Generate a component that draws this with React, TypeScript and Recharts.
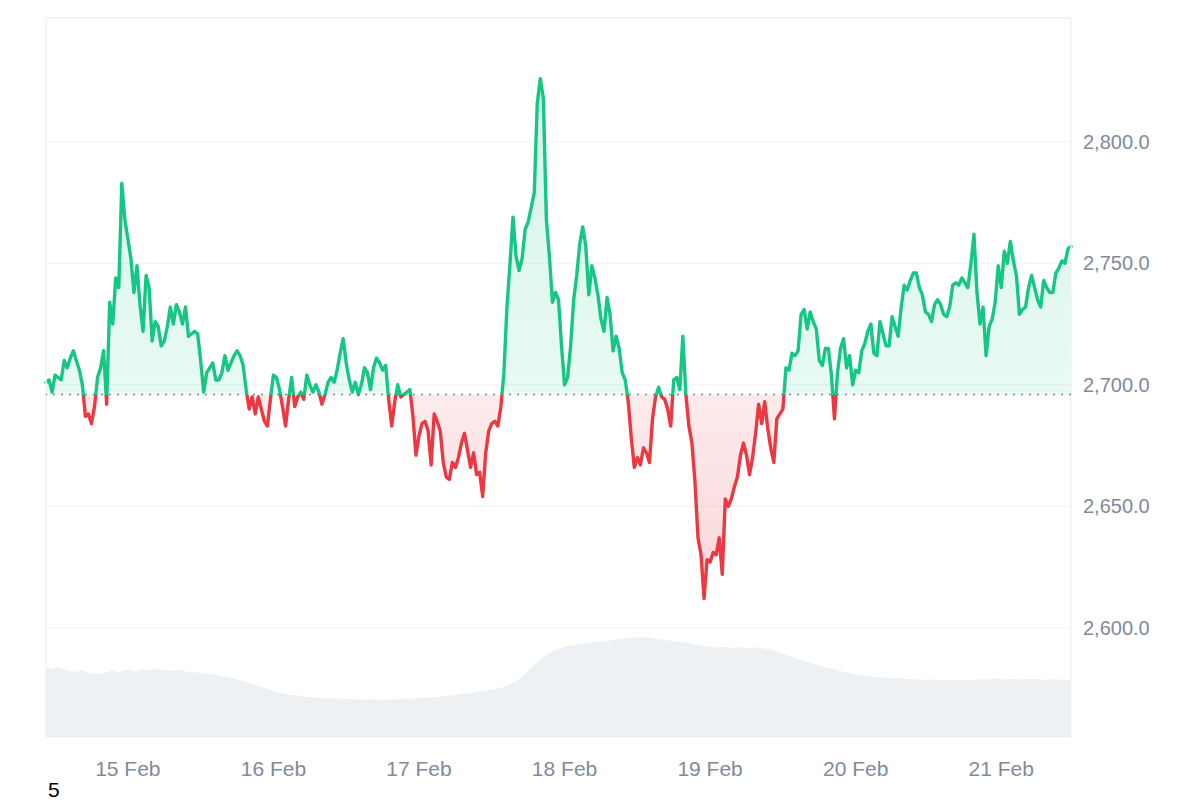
import { ComposedChart, Area, XAxis, YAxis, CartesianGrid, ReferenceLine } from "recharts";

// half-hourly closes, starting 14 Feb 10:30 UTC
const START = Date.UTC(2025, 1, 14, 10, 30);
const HALF_HOUR = 30 * 60 * 1000;
const BASELINE = 2696;

const feb14 = [
  2701, 2702, 2697, 2704, 2703, 2702, 2710, 2707, 2711, 2714, 2710, 2706, 2700, 2687,
  2688, 2684, 2691, 2703, 2707, 2714, 2692, 2734, 2725, 2744, 2740, 2783, 2768,
];
const feb15 = [
  2760, 2752, 2738, 2749, 2733, 2722, 2745, 2740, 2718, 2726, 2724, 2716, 2718, 2724,
  2732, 2725, 2733, 2730, 2725, 2732, 2720, 2721, 2722, 2721, 2710, 2697, 2705, 2707,
  2709, 2702, 2702, 2705, 2712, 2706, 2709, 2712, 2714, 2712, 2708, 2698, 2690, 2695,
  2688, 2695, 2690, 2685, 2683, 2694,
];
const feb16 = [
  2704, 2703, 2698, 2691, 2683, 2694, 2703, 2691, 2695, 2697, 2694, 2704, 2700, 2697,
  2700, 2697, 2692, 2696, 2701, 2703, 2701, 2706, 2713, 2719, 2709, 2702, 2697, 2701,
  2696, 2700, 2707, 2705, 2698, 2707, 2711, 2709, 2706, 2708, 2694, 2683, 2693, 2700,
  2695, 2696, 2697, 2698, 2687, 2671,
];
const feb17 = [
  2679, 2684, 2685, 2681, 2667, 2688, 2685, 2681, 2668, 2662, 2661, 2668, 2666, 2670,
  2676, 2680, 2673, 2666, 2672, 2663, 2664, 2654, 2672, 2681, 2684, 2685, 2683, 2691,
  2705, 2732, 2750, 2769, 2753, 2747, 2752, 2764, 2767, 2773, 2779, 2816, 2826, 2818,
  2768, 2753, 2734, 2738, 2735, 2716,
];
const feb18 = [
  2700, 2703, 2716, 2735, 2745, 2758, 2765, 2757, 2737, 2749, 2744, 2737, 2727, 2722,
  2736, 2729, 2714, 2720, 2715, 2705, 2702, 2693, 2678, 2666, 2670, 2667, 2674, 2672,
  2668, 2686, 2695, 2699, 2695, 2694, 2690, 2683, 2702, 2703, 2698, 2720, 2696, 2683,
  2676, 2660, 2637, 2630, 2612, 2628,
];
const feb19 = [
  2627, 2631, 2630, 2637, 2622, 2653, 2650, 2653, 2658, 2662, 2671, 2676, 2671, 2663,
  2670, 2680, 2692, 2684, 2693, 2682, 2674, 2668, 2686, 2688, 2690, 2707, 2706, 2713,
  2712, 2714, 2729, 2731, 2723, 2730, 2726, 2723, 2710, 2708, 2715, 2715, 2704, 2686,
  2705, 2715, 2719, 2707, 2712, 2700,
];
const feb20 = [
  2706, 2705, 2714, 2717, 2722, 2725, 2713, 2712, 2726, 2721, 2716, 2716, 2728, 2724,
  2720, 2732, 2741, 2739, 2743, 2746, 2746, 2740, 2737, 2730, 2729, 2726, 2733, 2735,
  2733, 2729, 2728, 2732, 2741, 2742, 2741, 2744, 2742, 2740, 2750, 2762, 2738, 2725,
  2732, 2712, 2724, 2727, 2734, 2749,
];
const feb21 = [
  2740, 2755, 2750, 2759, 2751, 2745, 2729, 2731, 2732, 2740, 2745, 2740, 2735, 2732,
  2743, 2740, 2738, 2738, 2746, 2748, 2751, 2750, 2756, 2757,
];

// hourly volume in $B, starting 14 Feb 10:30 UTC
const volume = [
  14.0, 13.6, 14.1, 13.5, 13.2, 13.0, 13.4, 12.9, 12.7, 12.6,
  13.0, 13.3, 12.9, 13.5, 13.4, 13.1, 13.6, 13.3, 13.7, 13.4,
  13.4, 13.2, 13.5, 13.1, 12.9, 13.0, 12.8, 12.6, 12.5, 12.2,
  12.0, 11.7, 11.4, 11.0, 10.6, 10.2, 9.8, 9.5, 9.0, 8.8,
  8.5, 8.4, 8.2, 8.0, 7.9, 7.9, 7.7, 7.8, 7.6, 7.7,
  7.6, 7.5, 7.6, 7.5, 7.6, 7.4, 7.5, 7.6, 7.5, 7.7,
  7.6, 7.8, 7.8, 7.9, 8.0, 8.1, 8.2, 8.4, 8.5, 8.7,
  8.8, 9.0, 9.2, 9.4, 9.6, 9.8, 10.3, 10.9, 11.6, 12.6,
  13.8, 15.0, 16.0, 16.8, 17.4, 17.9, 18.2, 18.4, 18.7, 18.8,
  19.0, 19.1, 19.2, 19.4, 19.5, 19.7, 19.8, 19.9, 20.0, 20.0,
  19.8, 19.6, 19.5, 19.3, 19.2, 19.0, 18.9, 18.6, 18.4, 18.2,
  18.0, 17.9, 18.1, 17.8, 18.0, 17.9, 17.8, 17.9, 17.8, 17.6,
  17.3, 16.9, 16.5, 16.0, 15.6, 15.2, 14.8, 14.5, 14.1, 13.8,
  13.6, 13.2, 12.9, 12.6, 12.4, 12.3, 12.1, 12.0, 11.9, 11.8,
  11.8, 11.7, 11.6, 11.5, 11.6, 11.4, 11.5, 11.4, 11.3, 11.4,
  11.4, 11.3, 11.5, 11.4, 11.6, 11.5, 11.6, 11.7, 11.5, 11.6,
  11.6, 11.5, 11.7, 11.6, 11.5, 11.4, 11.6, 11.5, 11.4, 11.4,
];

const dayTicks = [15, 16, 17, 18, 19, 20, 21].map((d) => Date.UTC(2025, 1, d));
const dayLabels = ["15 Feb", "16 Feb", "17 Feb", "18 Feb", "19 Feb", "20 Feb", "21 Feb"];
const priceTicks = [2600, 2650, 2700, 2750, 2800];

const prices = [...feb14, ...feb15, ...feb16, ...feb17, ...feb18, ...feb19, ...feb20, ...feb21];

const data = prices.map((p, i) => ({
  t: START + i * HALF_HOUR,
  price: p,
  volume: i % 2 === 0 ? volume[i / 2] ?? null : null,
}));

const hi = Math.max(...prices);
const lo = Math.min(...prices);
const split = (hi - BASELINE) / (hi - lo);

const GREEN = "#16c784";
const RED = "#ea3943";
const GRID = "#eff2f5";
const TEXT = "#808a9d";
const FONT = "Arial, 'Liberation Sans', sans-serif";

export default function App() {
  return (
    <div style={{ position: "relative", width: 1184, height: 792, fontFamily: FONT }}>
      <ComposedChart width={1184} height={779} data={data} margin={{ top: 10, right: 0, bottom: 0, left: 38 }}>
        <defs>
          <linearGradient id="priceStroke" x1="0" y1="0" x2="0" y2="1">
            <stop offset={split} stopColor={GREEN} />
            <stop offset={split} stopColor={RED} />
          </linearGradient>
          <linearGradient id="priceFill" x1="0" y1="0" x2="0" y2="1">
            <stop offset={0} stopColor={GREEN} stopOpacity={0.18} />
            <stop offset={split} stopColor={GREEN} stopOpacity={0.1} />
            <stop offset={split} stopColor={RED} stopOpacity={0.1} />
            <stop offset={1} stopColor={RED} stopOpacity={0.2} />
          </linearGradient>
        </defs>
        <CartesianGrid yAxisId="price" vertical={false} stroke={GRID} />
        <XAxis
          dataKey="t"
          type="number"
          domain={["dataMin", "dataMax"]}
          ticks={dayTicks}
          interval={0}
          tickFormatter={(v) => dayLabels[dayTicks.indexOf(v)]}
          axisLine={false}
          tickLine={false}
          tickSize={0}
          tickMargin={24}
          height={50}
          tick={{ fill: TEXT, fontSize: 21, fontFamily: FONT }}
        />
        <YAxis
          yAxisId="price"
          orientation="right"
          domain={[2555, 2851]}
          ticks={priceTicks}
          allowDataOverflow
          width={121}
          axisLine={false}
          tickLine={false}
          tickSize={0}
          tickMargin={12}
          tickFormatter={(v) => v.toLocaleString("en-US", { minimumFractionDigits: 1, maximumFractionDigits: 1 })}
          tick={{ fill: TEXT, fontSize: 20, fontFamily: FONT }}
        />
        <YAxis yAxisId="vol" hide domain={[0, 144]} />
        <ReferenceLine yAxisId="price" y={2851} stroke={GRID} strokeWidth={1.5} />
        <ReferenceLine yAxisId="price" x={data[0].t} stroke={GRID} strokeWidth={1.5} />
        <ReferenceLine yAxisId="price" x={data[data.length - 1].t} stroke={GRID} strokeWidth={1.5} />
        <Area
          yAxisId="vol"
          dataKey="volume"
          type="linear"
          stroke="none"
          fill="#eef1f4"
          fillOpacity={1}
          connectNulls
          dot={false}
          activeDot={false}
          isAnimationActive={false}
        />
        <Area
          yAxisId="price"
          dataKey="price"
          type="linear"
          baseValue={BASELINE}
          stroke="url(#priceStroke)"
          strokeWidth={3.4}
          strokeLinejoin="round"
          strokeLinecap="round"
          fill="url(#priceFill)"
          fillOpacity={1}
          dot={false}
          activeDot={false}
          isAnimationActive={false}
        />
        <ReferenceLine yAxisId="price" y={BASELINE} stroke="#7d8494" strokeWidth={1.5} strokeDasharray="2 6" />
      </ComposedChart>
      <div style={{ position: "absolute", left: 40, top: 770, fontSize: 21, color: "#000" }}>5</div>
    </div>
  );
}
